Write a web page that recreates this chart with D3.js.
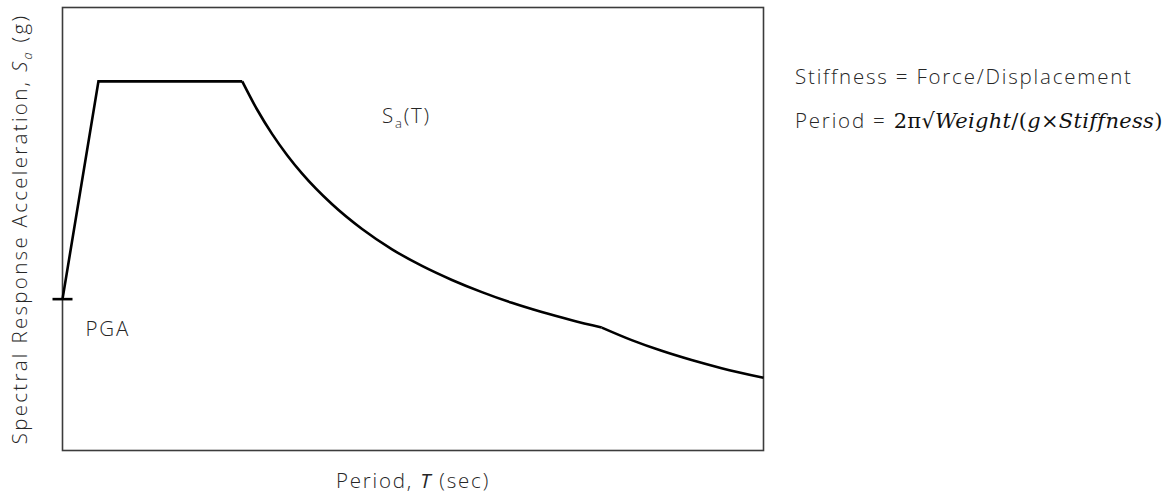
<!DOCTYPE html>
<html>
<head>
<meta charset="utf-8">
<script src="https://cdn.jsdelivr.net/npm/d3@7"></script>
<style>
  html, body { margin: 0; padding: 0; background: #fff; }
  svg { display: block; }
  text { font-family: "Open Sans", "Noto Sans", sans-serif; font-weight: 300; fill: #262626; letter-spacing: 1.8px; }
  .math { font-family: "DejaVu Serif", "Liberation Serif", serif; font-weight: 400; fill: #111; letter-spacing: 0.3px; }
</style>
</head>
<body>
<svg id="chart" width="1176" height="497"></svg>
<script>
// Design response spectrum: ramp from PGA to the plateau, flat plateau,
// 1/T descending branch, then the long-period branch past TL.
const rampT  = [0, 0.12, 0.6];
const rampSa = [0.41, 1.0, 1.0];

const decayT  = [0.6, 0.65, 0.7, 0.75, 0.8, 0.9, 1.0, 1.1, 1.2, 1.3, 1.4, 1.5, 1.6, 1.7, 1.8];
const decaySa = [1.0, 0.923, 0.857, 0.80, 0.75, 0.667, 0.60, 0.545, 0.50, 0.462, 0.429, 0.40, 0.375, 0.353, 0.333];

const longT  = [1.8, 1.9, 2.0, 2.1, 2.2, 2.34];
const longSa = [0.333, 0.299, 0.27, 0.245, 0.223, 0.197];

const pga = 0.41;
const tMax = 2.34;
const saMax = 1.2;

const svg = d3.select("#chart");
const box = { left: 62.5, top: 7.5, right: 763.5, bottom: 450.5 };

const x = d3.scaleLinear().domain([0, tMax]).range([box.left, box.right]);
const y = d3.scaleLinear().domain([0, saMax]).range([box.bottom, box.top]);

// Frame
svg.append("rect")
  .attr("x", box.left).attr("y", box.top)
  .attr("width", box.right - box.left).attr("height", box.bottom - box.top)
  .attr("fill", "none").attr("stroke", "#3c3c3c").attr("stroke-width", 1.6);

const zip = (ts, ss) => ts.map((t, i) => [t, ss[i]]);

const straight = d3.line().x(d => x(d[0])).y(d => y(d[1])).curve(d3.curveLinear);
const smooth = d3.line().x(d => x(d[0])).y(d => y(d[1])).curve(d3.curveMonotoneX);

const curveStyle = sel => sel.attr("fill", "none").attr("stroke", "#000")
  .attr("stroke-width", 2.6).attr("stroke-linejoin", "miter").attr("stroke-linecap", "butt");

svg.append("path").datum(zip(rampT, rampSa)).attr("d", straight).call(curveStyle);
svg.append("path").datum(zip(decayT, decaySa)).attr("d", smooth).call(curveStyle);
svg.append("path").datum(zip(longT, longSa)).attr("d", smooth).call(curveStyle);

// PGA marker on the vertical axis
svg.append("line")
  .attr("x1", x(0) - 10).attr("x2", x(0) + 10)
  .attr("y1", y(pga)).attr("y2", y(pga))
  .attr("stroke", "#000").attr("stroke-width", 2.6);

svg.append("text")
  .attr("x", x(0) + 23).attr("y", y(pga) + 37)
  .attr("font-size", 20.5)
  .text("PGA");

// Curve label Sa(T)
const saLabel = svg.append("text")
  .attr("x", 382).attr("y", 123)
  .attr("font-size", 20.5);
saLabel.append("tspan").text("S");
saLabel.append("tspan").attr("font-size", 13).attr("dy", 5).text("a");
saLabel.append("tspan").attr("dy", -5).text("(T)");

// Axis titles
svg.append("text")
  .attr("x", (box.left + box.right) / 2).attr("y", 488)
  .attr("text-anchor", "middle")
  .attr("font-size", 20.5)
  .call(t => {
    t.append("tspan").text("Period, ");
    t.append("tspan").attr("font-style", "italic").attr("font-weight", 400).text("T");
    t.append("tspan").text(" (sec)");
  });

svg.append("text")
  .attr("transform", `translate(27, ${(box.top + box.bottom) / 2}) rotate(-90)`)
  .attr("text-anchor", "middle")
  .attr("font-size", 20.5)
  .style("letter-spacing", "2.3px")
  .call(t => {
    t.append("tspan").text("Spectral Response Acceleration, ");
    t.append("tspan").attr("font-style", "italic").text("S");
    t.append("tspan").attr("font-style", "italic").attr("font-size", 13).attr("dy", 5).text("a");
    t.append("tspan").attr("dy", -5).text(" (g)");
  });

// Notes on the right
svg.append("text")
  .attr("x", 795).attr("y", 84)
  .attr("font-size", 20.5)
  .text("Stiffness = Force/Displacement");

const period = svg.append("text")
  .attr("x", 795).attr("y", 128)
  .attr("font-size", 20.5);
period.append("tspan").text("Period = ");
const parts = [
  ["2π√", false], ["Weight", true], ["/(", false], ["g", true],
  ["×", false], ["Stiffness", true], [")", false]
];
parts.forEach(([s, it]) => {
  period.append("tspan")
    .attr("class", "math")
    .attr("font-size", 21)
    .attr("font-style", it ? "italic" : "normal")
    .text(s);
});
</script>
</body>
</html>
